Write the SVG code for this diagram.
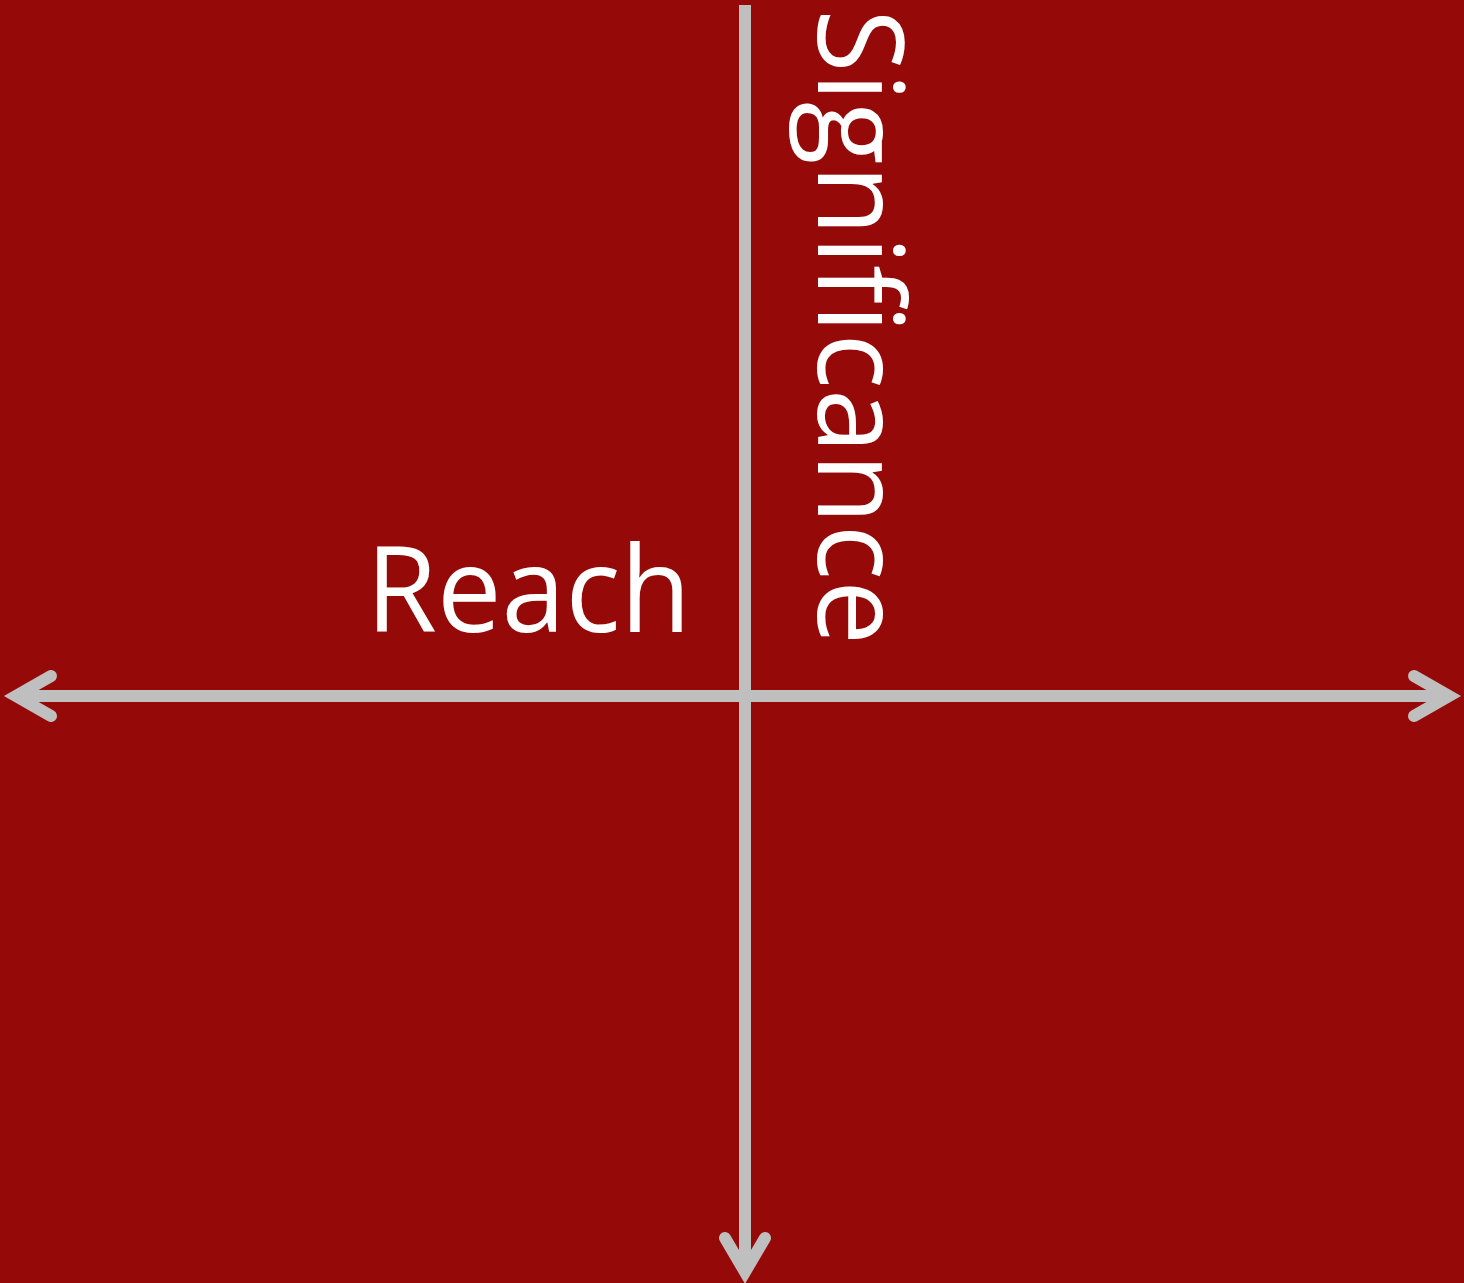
<svg xmlns="http://www.w3.org/2000/svg" width="1464" height="1283" viewBox="0 0 1464 1283">
<style>
.ax{stroke:#bfbfbf;stroke-width:12;fill:none;stroke-linecap:butt}
.hd{stroke:#bfbfbf;stroke-width:12;fill:none;stroke-linecap:round;stroke-linejoin:miter;stroke-miterlimit:10}
.lbl{fill:#ffffff;font-family:"Open Sans","Noto Sans","Liberation Sans",sans-serif;font-size:119px}
</style>
<rect x="0" y="0" width="1464" height="1283" fill="#960909"/>
<g id="connectors">
<line class="ax" x1="16" y1="696" x2="1449" y2="696"/>
<line class="ax" x1="745" y1="5" x2="745" y2="1272"/>
<polyline class="hd" points="51,676 16,696 51,716"/>
<polyline class="hd" points="1414,676 1449,696 1414,716"/>
<polyline class="hd" points="725,1238 745,1272 765,1238"/>
</g>
<g id="reach"><text class="lbl" x="366" y="632" textLength="325" lengthAdjust="spacingAndGlyphs">Reach</text></g>
<g id="significance"><text class="lbl" transform="translate(818,9) rotate(90)" textLength="636" lengthAdjust="spacingAndGlyphs">Significance</text></g>
</svg>
